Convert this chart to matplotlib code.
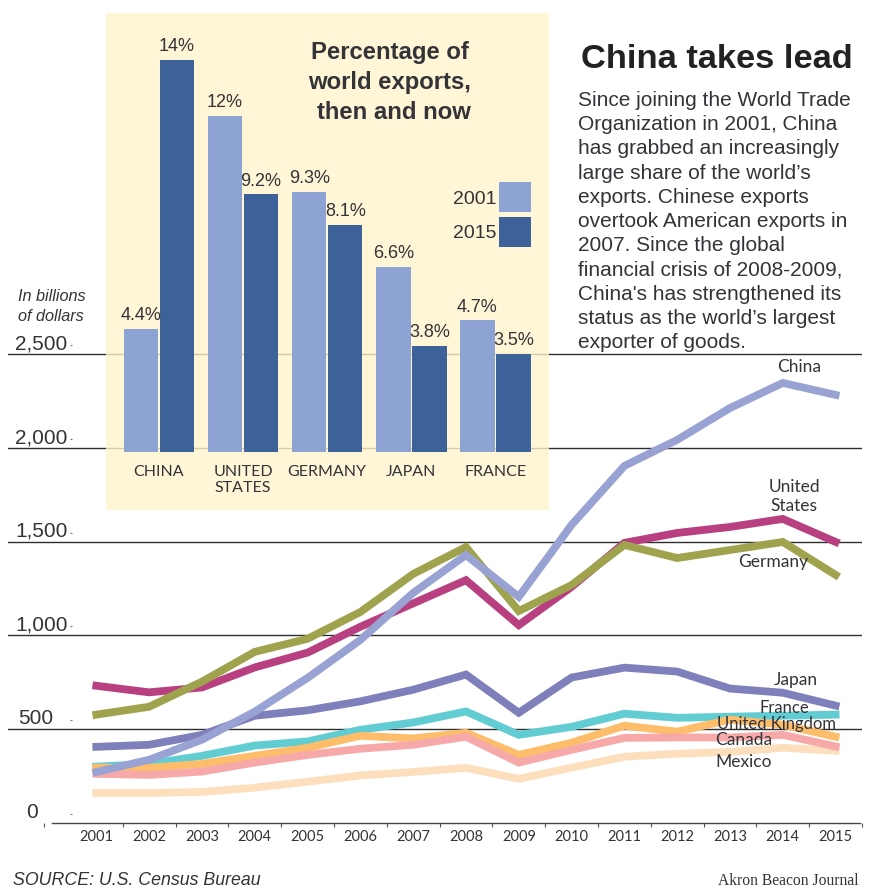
import matplotlib
matplotlib.use('Agg')
import matplotlib.pyplot as plt
from matplotlib.patches import Rectangle

W, H = 880, 892
NARROW = 'Lato'
SANS = 'Liberation Sans'
INK = '#333338'

years = list(range(2001, 2016))
china = [271, 336, 443, 593, 773, 976, 1227, 1429, 1206, 1590, 1905, 2044, 2214, 2348, 2284]
usa = [731, 696, 722, 829, 908, 1046, 1171, 1295, 1055, 1259, 1494, 1547, 1579, 1622, 1499]
germany = [577, 619, 753, 912, 982, 1125, 1328, 1472, 1130, 1269, 1483, 1413, 1456, 1499, 1323]
japan = [405, 416, 469, 571, 600, 648, 710, 791, 587, 775, 828, 807, 716, 694, 625]
france = [299, 314, 357, 412, 434, 496, 535, 594, 469, 512, 582, 560, 566, 571, 577]
uk = [293, 293, 314, 357, 400, 464, 450, 480, 362, 427, 518, 486, 550, 523, 459]
canada = [261, 255, 273, 321, 362, 395, 416, 459, 321, 389, 453, 455, 455, 469, 407]
mexico = [159, 159, 164, 187, 219, 252, 271, 293, 234, 294, 352, 368, 378, 400, 384]

y_ticks = [0, 500, 1000, 1500, 2000, 2500]
y_labels = ['0', '500', '1,000', '1,500', '2,000', '2,500']
y_label_left = [26, 18, 15, 15, 15, 15]

countries = ['CHINA', 'UNITED\nSTATES', 'GERMANY', 'JAPAN', 'FRANCE']
share_2001 = [4.4, 12, 9.3, 6.6, 4.7]
share_2015 = [14, 9.2, 8.1, 3.8, 3.5]

body = [
    'Since joining the World Trade',
    'Organization in 2001, China',
    'has grabbed an increasingly',
    "large share of the world\u2019s",
    'exports. Chinese exports',
    'overtook American exports in',
    '2007. Since the global',
    'financial crisis of 2008-2009,',
    "China's has strengthened its",
    'status as the world\u2019s largest',
    'exporter of goods.',
]


def fx(x):
    return x / W


def fy(y):
    return 1 - y / H


def put(x, y, s, **kw):
    # x, y are picture pixels, y is the text baseline
    kw.setdefault('va', 'baseline')
    kw.setdefault('color', INK)
    return fig.text(fx(x), fy(y), s, **kw)


fig = plt.figure(figsize=(W / 100, H / 100), dpi=100)

# main line chart
X0, X1 = 8, 862
Y_BASE, Y_TOP = 822.7, 13
PX_YEAR = 52.9
PX_UNIT = 0.1873
X_2001 = 96.5

ax = fig.add_axes([fx(X0), fy(Y_BASE), (X1 - X0) / W, (Y_BASE - Y_TOP) / H])
ax.set_xlim(2001 + (X0 - X_2001) / PX_YEAR, 2001 + (X1 - X_2001) / PX_YEAR)
ax.set_ylim(0, (Y_BASE - Y_TOP) / PX_UNIT)
ax.patch.set_visible(False)

for v in y_ticks[1:]:
    ax.axhline(v, color='#2e2e2e', lw=1.0, zorder=1)

series = [
    (mexico, '#fedfbd'),
    (france, '#62ccd3'),
    (uk, '#fdbd6b'),
    (canada, '#f7a8a8'),
    (japan, '#7f80bb'),
    (usa, '#b83f80'),
    (germany, '#9fa34e'),
    (china, '#98a2d3'),
]
for i, (vals, col) in enumerate(series):
    ax.plot(years, vals, color=col, lw=5.6, solid_capstyle='projecting',
            solid_joinstyle='miter', zorder=3 + i, clip_on=False)

for s in ['top', 'left', 'right']:
    ax.spines[s].set_visible(False)
ax.spines['bottom'].set_color('#444444')
ax.spines['bottom'].set_linewidth(1.0)
ax.spines['bottom'].set_bounds(2001 + (52 - X_2001) / PX_YEAR, ax.get_xlim()[1])

ax.set_yticks([])
ax.set_xticks([2000] + [y + 0.5 for y in years])
ax.set_xticklabels([])
ax.tick_params(axis='x', which='major', length=3, width=0.8, color='#555555')
ax.set_xticks(years, minor=True)
ax.set_xticklabels([str(y) for y in years], minor=True, family=NARROW, fontsize=10.5, color=INK)
ax.tick_params(axis='x', which='minor', length=0, pad=5)

for v, lab, left in zip(y_ticks, y_labels, y_label_left):
    put(left, Y_BASE - v * PX_UNIT - 5, lab, family=SANS, fontsize=15)
    ax.plot(2001 + (71 - X_2001) / PX_YEAR, v + 48, marker='_', ms=2, mew=0.8, color='#777777', zorder=2)

# inset panel with the bars
PANEL_L, PANEL_R, PANEL_T, PANEL_B = 106, 549, 13, 510
BAR_BASE = 452
PX_PCT = 28.0
PITCH = 84.1
FIRST = 159

pan = fig.add_axes([fx(PANEL_L), fy(PANEL_B), (PANEL_R - PANEL_L) / W, (PANEL_B - PANEL_T) / H])
pan.set_xlim((PANEL_L - FIRST) / PITCH, (PANEL_R - FIRST) / PITCH)
pan.set_ylim((BAR_BASE - PANEL_B) / PX_PCT, (BAR_BASE - PANEL_T) / PX_PCT)
pan.set_facecolor((0.995, 0.955, 0.80, 0.8))
for s in pan.spines.values():
    s.set_visible(False)

pos = list(range(len(countries)))
bw = 34.5 / PITCH
off = 18 / PITCH
b1 = pan.bar([p - off for p in pos], share_2001, bw, color='#8ca3d4', label='2001')
b2 = pan.bar([p + off for p in pos], share_2015, bw, color='#3c6299', label='2015')
for bars in (b1, b2):
    pan.bar_label(bars, fmt='%g%%', padding=3.5, family=SANS, fontsize=13, color=INK)

pan.set_yticks([])
pan.set_xticks([])
for p, name in zip(pos, countries):
    pan.annotate(name, (p, 0), xytext=(0, -9.4), textcoords='offset points', ha='center', va='top',
                 family=NARROW, fontsize=11.5, color=INK, linespacing=1.2)

# legend swatches
for top, col in [(182, '#8ca3d4'), (217, '#3c6299')]:
    fig.add_artist(Rectangle((fx(499), fy(top + 30)), 32 / W, 30 / H, color=col,
                             transform=fig.transFigure, lw=0))
put(496, 204, '2001', family=SANS, fontsize=14, ha='right')
put(496, 238, '2015', family=SANS, fontsize=14, ha='right')

put(390, 59, 'Percentage of', family=SANS, fontsize=17.2, weight='bold', ha='center')
put(390, 89, 'world exports,', family=SANS, fontsize=17.2, weight='bold', ha='center')
put(394, 119, 'then and now', family=SANS, fontsize=17.2, weight='bold', ha='center')

# headline and copy
put(581, 68, 'China takes lead', family=SANS, fontsize=24.8, weight='bold', color='#222222')
for i, line in enumerate(body):
    put(578, 106 + i * 24.2, line, family=SANS, fontsize=15)

# line labels
put(777, 372, 'China', family=NARROW, fontsize=12.5)
put(794, 492, 'United', family=NARROW, fontsize=12.5, ha='center')
put(794, 511, 'States', family=NARROW, fontsize=12.5, ha='center')
put(738, 567, 'Germany', family=NARROW, fontsize=12.5)
put(774, 685, 'Japan', family=NARROW, fontsize=12.5)
put(759, 713, 'France', family=NARROW, fontsize=12)
put(717, 729, 'United Kingdom', family=NARROW, fontsize=12)
put(715, 745, 'Canada', family=NARROW, fontsize=12.5)
put(715, 767, 'Mexico', family=NARROW, fontsize=12.5)

put(18, 301, 'In billions', family=SANS, fontsize=11.7, style='italic')
put(18, 321, 'of dollars', family=SANS, fontsize=11.7, style='italic')
put(13, 885, 'SOURCE: U.S. Census Bureau', family=SANS, fontsize=12.8, style='italic')
put(718, 885, 'Akron Beacon Journal', family='Liberation Serif', fontsize=11.2)

fig.savefig('out.png', dpi=100)
